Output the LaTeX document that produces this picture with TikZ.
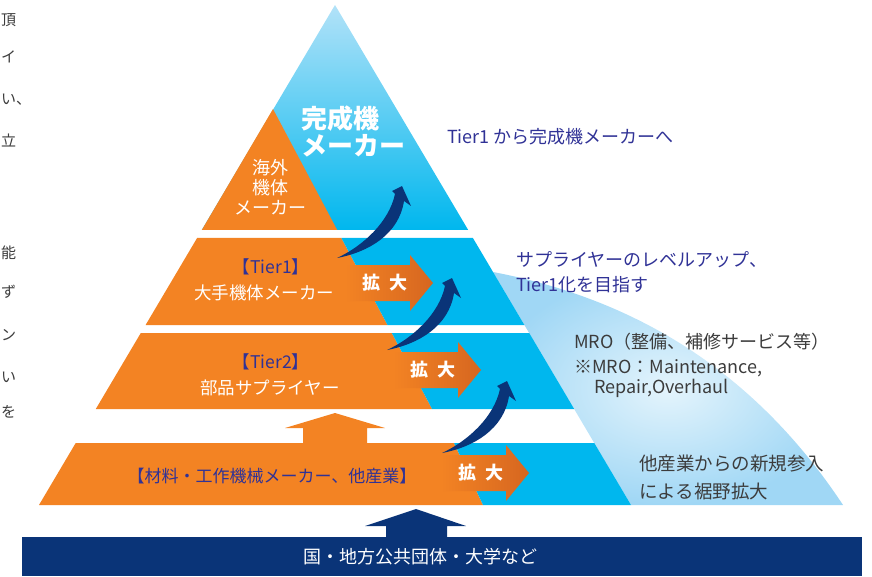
\documentclass[tikz,border=0pt]{standalone}
\usepackage{fontspec}
\setmainfont{Noto Sans CJK JP}
\usetikzlibrary{positioning}

\definecolor{pyorange}{RGB}{243,131,35}
\definecolor{pyorangedk}{RGB}{214,102,32}
\definecolor{pycyan}{RGB}{0,183,238}
\definecolor{pysky}{RGB}{178,226,248}
\definecolor{pyfan}{RGB}{160,215,245}
\definecolor{pyfanlt}{RGB}{228,244,252}
\definecolor{pynavy}{RGB}{10,52,120}
\definecolor{txtblue}{RGB}{48,50,150}
\definecolor{txtgray}{RGB}{60,60,60}

\tikzset{
  txt/.style={inner sep=0pt, font=\fontsize{17.5}{20}\selectfont},
  sidetxt/.style={inner sep=0pt, anchor=west, align=left, font=\fontsize{18}{25}\selectfont},
  kakutxt/.style={inner sep=0pt, text=white, font=\bfseries\fontsize{18}{20}\selectfont},
  edgetxt/.style={inner sep=0pt, anchor=west, text=txtgray, font=\fontsize{15}{17}\selectfont}
}

\begin{document}
\begin{tikzpicture}[x=1pt,y=-1pt]
  \useasboundingbox (0,0) rectangle (872,577);

  % fan behind the pyramid
  \shade[inner color=pyfanlt, outer color=pyfan]
    (493,272) -- (631,505) -- (843,505) .. controls (757,375) and (640,300) .. (493,272) -- cycle;

  % pyramid
  \shade[top color=pysky, bottom color=pycyan] (335,5) -- (468.2,230) -- (201.8,230) -- cycle;
  \fill[pyorange] (273,109) -- (337.2,230) -- (201.8,230) -- cycle;
  \fill[pyorange] (197.1,238) -- (341.4,238) -- (387.5,325) -- (145.6,325) -- cycle;
  \fill[pycyan] (341.4,238) -- (472.9,238) -- (524.4,325) -- (387.5,325) -- cycle;
  \fill[pyorange] (140.8,333) -- (391.8,333) -- (432.1,409) -- (95.8,409) -- cycle;
  \fill[pycyan] (391.8,333) -- (529.2,333) -- (574.2,409) -- (432.1,409) -- cycle;
  \fill[pyorange] (75.7,443) -- (454,443) -- (483,505) -- (39,505) -- cycle;
  \fill[pycyan] (454,443) -- (594.3,443) -- (631,505) -- (483,505) -- cycle;

  % arrows
  \fill[pyorange] (303,443) -- (303,428) -- (285,428) -- (335,413) -- (385,428) -- (367,428) -- (367,443) -- cycle;
  \fill[pynavy] (22,537) rectangle (862,576);
  \fill[pynavy] (386,537) -- (386,526) -- (365,526) -- (416,509) -- (466,526) -- (447,526) -- (447,537) -- cycle;

  \foreach \bx/\ty [count=\i] in {410/283, 458/370, 506/473} {
    \shade[left color=pyorange, right color=pyorangedk]
      (\bx-65,\ty-18) -- (\bx,\ty-18) -- (\bx,\ty-28) -- (\bx+23,\ty) -- (\bx,\ty+28)
      -- (\bx,\ty+18) -- (\bx-65,\ty+18) -- cycle;
    \node (kakudai\i) [kakutxt] at (\bx-25,\ty) {拡\hspace{.45em}大};
  }

  \foreach \tx/\ty in {337/258, 387/350, 442/453} {
    \fill[pynavy, shift={(\tx,\ty)}]
      (0,0) .. controls (32,-6) and (62,-24) .. (67,-57) -- (74,-52) -- (65,-72) -- (55,-67)
      -- (58,-64) .. controls (52,-36) and (26,-12) .. (0,0) -- cycle;
  }

  % labels in the pyramid
  \node (kansei) [inner sep=0pt, anchor=west, align=left, text=white,
    font=\bfseries\fontsize{26}{27}\selectfont] at (301,131) {完成機\\メーカー};
  \node (kaigai) [txt, align=center, text=white, font=\fontsize{18}{20}\selectfont] at (270,187) {海外\\機体\\メーカー};
  \node (tier1) [txt, text=txtblue] at (271,267) {【Tier1】};
  \node (tier1sub) [txt, text=white] at (264,293) {大手機体メーカー};
  \node (tier2) [txt, text=txtblue] at (271,362) {【Tier2】};
  \node (tier2sub) [txt, text=white] at (270,388) {部品サプライヤー};
  \node (base) [txt, text=txtblue, font=\fontsize{17}{20}\selectfont] at (272,476) {【材料・工作機械メーカー、他産業】};
  \node (support) [txt, text=white, font=\fontsize{18}{20}\selectfont] at (420,557) {国・地方公共団体・大学など};

  % side notes
  \node (note1) [sidetxt, text=txtblue] at (447,137) {Tier1 から完成機メーカーへ};
  \node (note2) [sidetxt, text=txtblue] at (516,272) {サプライヤーのレベルアップ、\\Tier1化を目指す};
  \node (mro) [sidetxt, text=txtgray] at (574,342) {MRO（整備、補修サービス等）};
  \node (mronote) [sidetxt, text=txtgray, font=\fontsize{18}{20}\selectfont] at (574,379)
    {※MRO：Maintenance,\\\hspace*{1.1em}Repair,Overhaul};
  \node (newentry) [sidetxt, text=txtgray, font=\fontsize{18.5}{28}\selectfont] at (639,477)
    {他産業からの新規参入\\による裾野拡大};

  % text fragments at the left edge
  \node (edge1) [edgetxt] at (1,20) {頂};
  \node (edge2) [edgetxt] at (1,57) {イ};
  \node (edge3) [edgetxt] at (1,100) {い、};
  \node (edge4) [edgetxt] at (1,140) {立};
  \node (edge5) [edgetxt] at (1,253) {能};
  \node (edge6) [edgetxt] at (1,292) {ず};
  \node (edge7) [edgetxt] at (1,335) {ン};
  \node (edge8) [edgetxt] at (1,377) {い};
  \node (edge9) [edgetxt] at (1,412) {を};
\end{tikzpicture}
\end{document}
